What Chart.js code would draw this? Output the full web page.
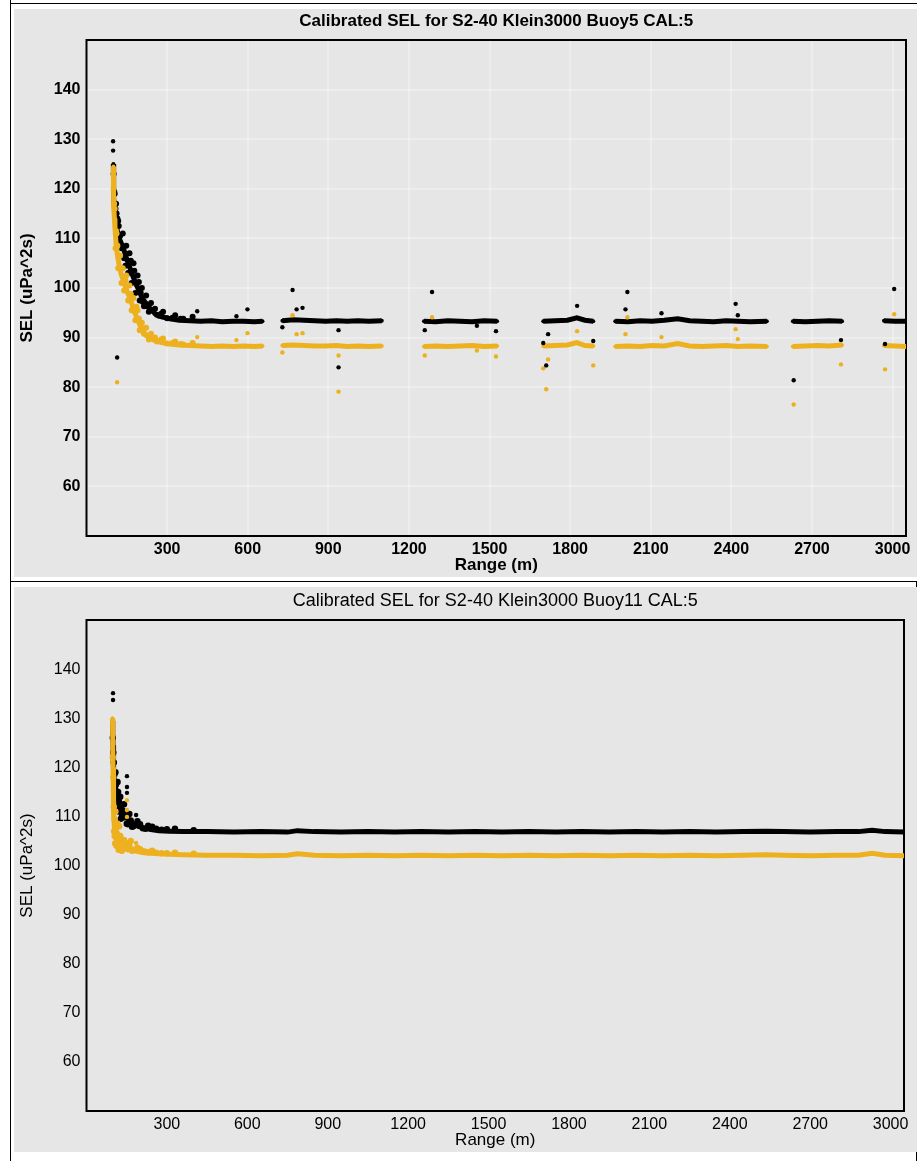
<!DOCTYPE html>
<html>
<head>
<meta charset="utf-8">
<title>Calibrated SEL</title>
<script src="https://cdn.jsdelivr.net/npm/chart.js@4.4.1/dist/chart.umd.min.js"></script>
<style>
  body { margin: 0; background: #fff; }
  #page { position: relative; width: 917px; height: 1161px; overflow: hidden; }
  .rule { position: absolute; background: #000; }
  .panel { position: absolute; left: 14px; width: 903px; background: #e6e6e6; }
  #panel5 { top: 9px; height: 568px; }
  #panel11 { top: 587px; height: 565px; }
  canvas { display: block; }
</style>
</head>
<body>
<div id="page">
  <div class="rule" style="left:10px;top:0;width:1px;height:1161px"></div>
  <div class="rule" style="left:10px;top:3px;width:907px;height:1px"></div>
  <div class="rule" style="left:10px;top:581px;width:907px;height:1px"></div>
  <div class="rule" style="left:916px;top:581px;width:1px;height:580px"></div>
  <div class="panel" id="panel5"><canvas id="chart-buoy5" width="903" height="568"></canvas></div>
  <div class="panel" id="panel11"><canvas id="chart-buoy11" width="903" height="565"></canvas></div>
</div>
<script>
const xTicks = [300, 600, 900, 1200, 1500, 1800, 2100, 2400, 2700, 3000];
const yTicks = [60, 70, 80, 90, 100, 110, 120, 130, 140];

// Buoy5: main band (null = gap between runs)
const buoy5Range = [100, 100, 101, 102, 104, 106, 108, 110, 113, 117, 122, 128, 135, 143, 152, 162, 172, 183, 195, 207,
  220, 235, 255, 280, 310, 345, 385, 425, 465, 505, 545, 585, 625, 655, null,
  729, 770, 810, 850, 890, 930, 970, 1010, 1050, 1099, null,
  1256, 1300, 1345, 1390, 1435, 1480, 1528, null,
  1700, 1745, 1790, 1825, 1855, 1886, null,
  1968, 2015, 2060, 2105, 2150, 2200, 2245, 2290, 2335, 2380, 2425, 2470, 2532, null,
  2629, 2675, 2720, 2765, 2812, null,
  2968, 3010, 3054];
const buoy5Black = [125, 122, 120, 118, 116, 114.5, 113.5, 113, 112, 111, 110, 109.2, 108.5, 107, 105.5, 104, 102.5, 101, 99.5, 98,
  97, 96, 94.8, 94.2, 93.8, 93.5, 93.4, 93.3, 93.4, 93.2, 93.3, 93.3, 93.2, 93.3, null,
  93.4, 93.6, 93.5, 93.4, 93.3, 93.4, 93.3, 93.4, 93.3, 93.4, null,
  93.3, 93.2, 93.4, 93.3, 93.2, 93.4, 93.3, null,
  93.3, 93.4, 93.5, 94.0, 93.5, 93.3, null,
  93.3, 93.2, 93.4, 93.3, 93.5, 93.8, 93.4, 93.3, 93.2, 93.4, 93.3, 93.2, 93.3, null,
  93.3, 93.2, 93.3, 93.4, 93.3, null,
  93.4, 93.3, 93.3];
const buoy5Orange = [124.5, 121, 118.5, 116.5, 114, 112, 110.5, 109, 107.5, 106, 104.5, 103, 101.8, 100.5, 99.2, 97.8, 96.3, 94.6, 93, 91.6,
  90.6, 89.9, 89.4, 89, 88.7, 88.5, 88.4, 88.3, 88.2, 88.3, 88.2, 88.3, 88.2, 88.3, null,
  88.4, 88.5, 88.4, 88.3, 88.3, 88.4, 88.2, 88.3, 88.2, 88.3, null,
  88.2, 88.3, 88.2, 88.3, 88.4, 88.2, 88.3, null,
  88.3, 88.4, 88.5, 89.0, 88.4, 88.3, null,
  88.2, 88.3, 88.2, 88.4, 88.3, 88.8, 88.3, 88.2, 88.3, 88.4, 88.2, 88.3, 88.2, null,
  88.2, 88.3, 88.4, 88.3, 88.5, null,
  88.4, 88.3, 88.2];

// Buoy5: scatter in the near-range decay
const buoy5SpreadRange = [101, 103, 105, 108, 110, 112, 115, 118, 120, 125, 130, 135, 140, 145, 148, 155, 160, 165, 168, 175,
  178, 182, 186, 190, 195, 198, 202, 206, 210, 214, 222, 225, 232, 240, 248, 255, 262, 270, 278, 285, 300, 320, 330, 350, 360, 395];
const buoy5SpreadBlack = [123, 119.5, 119, 116, 117, 115, 114, 113.5, 112.5, 110.5, 108, 111, 106, 104.5, 108.5, 103, 107, 105.5, 101, 105,
  103.5, 99, 100.8, 102.5, 101.2, 97.5, 99, 100, 97.2, 96.3, 98.5, 96.3, 95.2, 97, 95.5, 95.8, 94.6, 94.4, 94.8, 95.2, 93.9, 94, 94.5, 93.8, 93.8, 94.2];
const buoy5SpreadOrange = [120, 117, 116, 108, 111.5, 111, 108.5, 104, 106.5, 106.5, 101, 104, 99.5, 101.5, 102.5, 97.5, 100.5, 98.8, 95.5, 98,
  95.3, 93.5, 96.2, 95.5, 93.8, 91.5, 92.4, 93, 91.3, 90.8, 92, 90.4, 89.6, 90.8, 89.8, 90, 89.2, 89.3, 89.6, 89.8, 88.8, 88.9, 89.2, 88.7, 88.6, 88.9];

// Buoy5: isolated points
const buoy5OutRange = [99, 99, 114, 412, 558, 599, 729, 767, 782, 804, 938, 938, 1259, 1286, 1453, 1524, 1700, 1711, 1718, 1826, 1886, 2006, 2013, 2140, 2416, 2424, 2632, 2808, 2972, 3006];
const buoy5OutBlack = [129.6, 127.7, 86, 95.3, 94.3, 95.7, 92.1, 99.6, 95.7, 96, 91.5, 84, 91.5, 99.2, 92.4, 91.3, 88.9, 84.4, 90.7, 96.4, 89.3, 95.7, 99.2, 94.9, 96.8, 94.5, 81.4, 89.5, 88.7, 99.8];
const buoy5OutOrange = [null, null, 81, 90.1, 89.5, 90.9, 87, 94.5, 90.7, 90.9, 86.4, 79.1, 86.4, 94.1, 87.4, 86.2, 83.8, 79.6, 85.6, 91.3, 84.4, 90.7, 94.1, 90.1, 91.7, 89.7, 76.5, 84.6, 83.6, 94.7];

// Buoy11
const buoy11Range = [97, 98, 99, 100, 101, 102, 104, 106, 109, 113, 118, 124, 130, 137, 145, 155, 167, 180, 196, 215,
  240, 270, 310, 360, 450, 550, 650, 750, 787, 850, 950, 1050, 1150, 1250, 1350, 1450, 1550, 1650, 1750, 1850, 1950,
  2050, 2150, 2250, 2350, 2450, 2535, 2600, 2700, 2800, 2880, 2931, 2980, 3054];
const buoy11Black = [129.5, 127, 124.5, 122, 120.5, 119, 117.5, 116.5, 115.8, 115, 114, 113, 112, 111, 110.2, 109.5, 108.8, 108.3, 107.9, 107.6,
  107.3, 107.1, 107, 106.9, 106.9, 106.8, 106.9, 106.8, 107.1, 106.9, 106.8, 106.9, 106.8, 106.9, 106.8, 106.9, 106.8, 106.9, 106.8, 106.9, 106.8,
  106.9, 106.8, 106.9, 106.8, 106.9, 107.0, 106.9, 106.8, 106.9, 106.9, 107.2, 106.9, 106.8];
const buoy11Orange = [130, 125, 120, 116, 113, 110.5, 108, 106.5, 105.5, 105, 104.6, 104.3, 104, 103.8, 103.6, 103.4, 103.2, 103, 102.8, 102.6,
  102.5, 102.4, 102.3, 102.2, 102.1, 102.1, 102, 102.1, 102.4, 102.1, 102, 102.1, 102, 102.1, 102, 102.1, 102, 102.1, 102, 102.1, 102,
  102.1, 102, 102.1, 102, 102.1, 102.2, 102.1, 102, 102.1, 102.1, 102.5, 102.1, 102];
const buoy11SpreadRange = [98, 100, 102, 103, 104, 105, 107, 108, 110, 112, 114, 116, 118, 120, 122, 126, 128, 132, 135, 140,
  145, 150, 155, 160, 165, 170, 175, 190, 200, 210, 220, 230, 245, 260, 280, 300, 330, 400];
const buoy11SpreadBlack = [126, 123, 121, 112, 118.5, 116, 114, 119, 116.5, 113.5, 111.5, 117, 115, 111, 112.5, 114, 109.5, 110, 111.2, 112.5,
  109.8, 108.5, 108.4, 110.5, 109.2, 107.9, 108, 109, 108.4, 107.6, 107.5, 108.1, 107.9, 107.5, 107.3, 107.4, 107.5, 107.2];
const buoy11SpreadOrange = [122, 118, 112, 107, 109.5, 106, 104.5, 111, 107.5, 104, 106.5, 108.5, 104.5, 103.2, 108, 106, 104.8, 103, 103.6, 105.2,
  104.6, 103.5, 103.3, 104, 105, 103, 103.2, 103.6, 103.3, 102.9, 102.8, 102.7, 103, 102.6, 102.5, 102.5, 102.6, 102.4];
const buoy11OutRange = [99, 99, 151, 151, 151, 185];
const buoy11OutBlack = [135.1, 133.7, 118.2, 116, 114.8, 110.3];
const buoy11OutOrange = [null, null, 113.3, 111.3, 109.9, 104.6];

const ORANGE = '#EDB120';
const FAMILY = "'Liberation Sans', Arial, Helvetica, sans-serif";

function points(range, sel) {
    return range.map((r, i) => ({ x: r, y: sel[i] }));
}

const frameBox = {
    id: 'frameBox',
    beforeDatasetsDraw(chart) {
        const a = chart.chartArea;
        const ctx = chart.ctx;
        ctx.save();
        ctx.strokeStyle = '#000';
        ctx.lineWidth = 2;
        ctx.strokeRect(a.left, a.top, a.right - a.left, a.bottom - a.top);
        ctx.restore();
    }
};

function dots(data, color, radius) {
    return { data: data, backgroundColor: color, borderColor: color, pointRadius: radius, pointBorderWidth: 0 };
}

function band(data, color, width) {
    return {
        data: data, showLine: true, spanGaps: false, borderColor: color, backgroundColor: color,
        borderWidth: width, pointRadius: 2, pointBorderWidth: 0, tension: 0
    };
}

function makeChart(id, o) {
    const weight = o.bold ? 'bold' : 'normal';
    const tickFont = { family: FAMILY, size: 16, weight: weight };
    const gridColor = 'rgba(255,255,255,0.3)';
    return new Chart(document.getElementById(id), {
        type: 'scatter',
        data: {
            datasets: [
                dots(points(o.outRange, o.outBlack), '#000', 2.2),
                dots(points(o.outRange, o.outOrange), ORANGE, 2.2),
                dots(points(o.spreadRange, o.spreadOrange), ORANGE, o.spreadRadius),
                band(points(o.range, o.orange), ORANGE, o.bandWidth),
                dots(points(o.spreadRange, o.spreadBlack), '#000', o.spreadRadius),
                band(points(o.range, o.black), '#000', o.bandWidth)
            ]
        },
        options: {
            responsive: false,
            animation: false,
            layout: { padding: { left: 0, top: 0, bottom: 0, right: o.padRight } },
            plugins: {
                legend: { display: false },
                tooltip: { enabled: false },
                title: { display: false }
            },
            scales: {
                // top axis only carries the chart title, centred over the plot box
                top: {
                    type: 'linear', position: 'top', min: 0, max: 3050,
                    afterFit: s => { s.height = o.topHeight; s.paddingLeft = 0; s.paddingRight = 0; },
                    grid: { display: false, drawTicks: false },
                    border: { display: false },
                    ticks: { display: false },
                    title: {
                        display: true, text: o.title, color: '#000',
                        font: { family: FAMILY, size: o.titleSize, weight: weight },
                        padding: { top: o.titlePadTop, bottom: 0 }
                    }
                },
                x: {
                    type: 'linear', position: 'bottom', min: 0, max: 3050,
                    afterBuildTicks: s => { s.ticks = xTicks.map(v => ({ value: v })); },
                    afterFit: s => { s.height = 41; s.paddingLeft = 0; s.paddingRight = 0; },
                    grid: { display: o.grid, color: gridColor, lineWidth: 2, drawTicks: false },
                    border: { display: false },
                    ticks: { color: '#000', font: tickFont, padding: 4, maxRotation: 0, autoSkip: false, callback: v => String(v) },
                    title: { display: true, text: 'Range (m)', color: '#000', font: { family: FAMILY, size: 17, weight: weight }, padding: { top: 0, bottom: 1 } }
                },
                y: {
                    type: 'linear', min: 50, max: 150,
                    afterBuildTicks: s => { s.ticks = yTicks.map(v => ({ value: v })); },
                    afterFit: s => { s.width = 72.5; s.paddingTop = 0; s.paddingBottom = 0; },
                    grid: { display: o.grid, color: gridColor, lineWidth: 2, drawTicks: false },
                    border: { display: false },
                    ticks: { color: '#000', font: tickFont, padding: 6, callback: v => String(v) },
                    title: { display: true, text: 'SEL (uPa^2s)', color: '#000', font: { family: FAMILY, size: 17, weight: weight }, padding: { top: 3, bottom: 0 } }
                }
            }
        },
        plugins: [frameBox]
    });
}

document.addEventListener('DOMContentLoaded', function () {
    makeChart('chart-buoy5', {
        title: 'Calibrated SEL for S2-40 Klein3000 Buoy5 CAL:5', bold: true, titleSize: 17,
        titlePadTop: 1.8, topHeight: 31, grid: true, padRight: 11, bandWidth: 5, spreadRadius: 3,
        range: buoy5Range, black: buoy5Black, orange: buoy5Orange,
        spreadRange: buoy5SpreadRange, spreadBlack: buoy5SpreadBlack, spreadOrange: buoy5SpreadOrange,
        outRange: buoy5OutRange, outBlack: buoy5OutBlack, outOrange: buoy5OutOrange
    });
    makeChart('chart-buoy11', {
        title: 'Calibrated SEL for S2-40 Klein3000 Buoy11 CAL:5', bold: false, titleSize: 18,
        titlePadTop: 3.2, topHeight: 33, grid: false, padRight: 13, bandWidth: 5, spreadRadius: 3.2,
        range: buoy11Range, black: buoy11Black, orange: buoy11Orange,
        spreadRange: buoy11SpreadRange, spreadBlack: buoy11SpreadBlack, spreadOrange: buoy11SpreadOrange,
        outRange: buoy11OutRange, outBlack: buoy11OutBlack, outOrange: buoy11OutOrange
    });
});
</script>
</body>
</html>
